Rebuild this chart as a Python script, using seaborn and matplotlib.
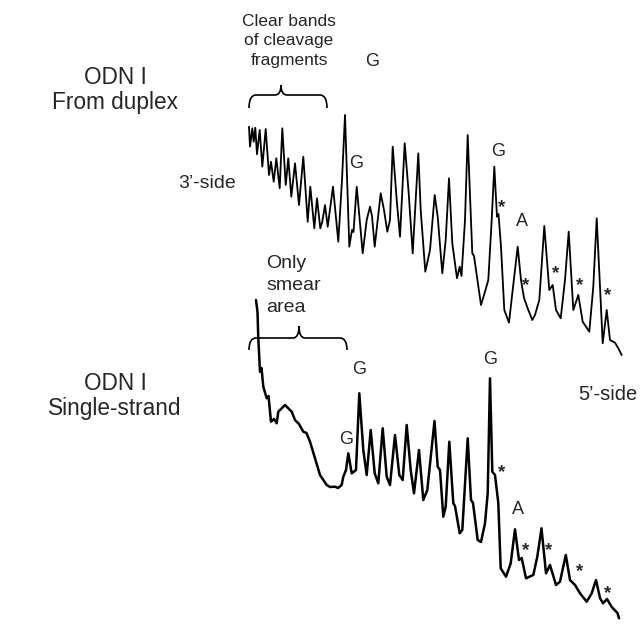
import matplotlib
matplotlib.use("Agg")
import matplotlib.pyplot as plt
import seaborn as sns
from matplotlib.path import Path
from matplotlib.patches import PathPatch

# ---- data (x = migration position, y = signal drawn downward) ----
duplex_x = [249, 250, 252.3, 253.7, 255.3, 257, 259.7, 262.3, 265.7, 269, 271, 273.7, 276.3, 279.7,
            282.3, 285.7, 288.3, 291.3, 295, 299, 303.3, 307.7, 310.3, 314.3, 317, 320.3, 322.3, 325,
            327.7, 333, 338.3, 342, 345, 349.3, 352, 353.5, 356.7, 362.7, 366.7, 370, 372, 374.7,
            380.7, 384, 387.3, 390, 392.7, 396.7, 400, 404.7, 408.7, 412.7, 418.3, 420.7, 425.3, 430,
            434.7, 437.7, 442.3, 445.7, 449, 452.3, 457, 459.7, 461.5, 465, 467.7, 470.3, 472.3, 474,
            481, 485, 488.3, 491.7, 494.3, 497, 498.5, 501, 504.3, 509, 512.3, 517.7, 521, 524, 528.3,
            532.3, 535, 539.3, 544.3, 549.3, 552.7, 556, 560.7, 565, 568.7, 573.3, 578.3, 582.7,
            589.3, 593.3, 596.7, 600, 602.7, 606.7, 610, 615, 618.3, 621.7]
duplex_y = [126.7, 146.7, 128.3, 141.7, 127.7, 154.3, 130, 166.7, 129, 175, 161.7, 181.7, 158.3, 188.3,
            128.3, 185, 158.3, 196.7, 163.3, 205, 156.7, 221.7, 186.7, 228.3, 198.3, 228.3, 221.7, 205,
            226.7, 186.7, 241.7, 180, 115, 246.7, 230, 232, 186.7, 253.3, 220, 206.7, 216, 246.7,
            193.3, 210, 231.7, 220, 146.7, 200, 236.7, 143.3, 193.3, 253.3, 153.3, 210, 271.7, 250,
            195, 216.7, 273.3, 240, 178.3, 243.3, 278.3, 266.7, 276, 220, 135, 203.3, 253.3, 256,
            305, 291.7, 280, 220, 166.7, 216.7, 214, 246.7, 310, 322.7, 293.3, 246.7, 280, 298, 310,
            320, 315, 300, 226, 290, 285, 310, 318.3, 280, 231.7, 310, 295, 321.7,
            331.7, 286.7, 218.3, 286.7, 343.3, 310, 340, 342.7, 348.3, 355]

single_x = [256, 257.5, 258.3, 260, 261.5, 263.3, 266.7, 268.5, 271, 274, 276.7, 278.3, 282, 285, 288,
            291.7, 295, 299, 303.3, 306.5, 310, 315, 320, 326.7, 330, 335, 338, 341.7, 343.3, 346,
            348.3, 351.7, 356, 359.3, 363.3, 366.7, 370.7, 374.7, 378.3, 382.7, 386.7, 390, 395,
            399.3, 402.7, 406.7, 410.7, 414, 419, 423.3, 427.3, 434.5, 437.7, 440, 443.3, 445.7,
            449.3, 453.3, 455, 459.7, 462.3, 467.7, 471, 473, 477.7, 481, 485, 487.7, 490, 492.3,
            495, 498.3, 500.7, 506, 510.7, 515, 519, 521.7, 526, 533.3, 537.3, 541.5, 546, 550, 556,
            560, 565.8, 570, 575, 580, 586.7, 591.7, 596, 600, 603, 607, 611.7, 617.5, 619]
single_y = [300, 312, 338.3, 371.7, 368, 386.7, 398.3, 396, 421.7, 419, 423.3, 411.7, 408, 405, 408,
            411.7, 420, 424, 431.7, 433, 441.7, 458.3, 475, 485, 487, 486.7, 488, 485, 476.7, 470,
            453.3, 473.3, 470, 393.3, 450, 475, 430, 473.3, 483.3, 428.3, 476.7, 485, 435,
            475, 480, 425, 470, 493.3, 450, 500, 490, 421, 466.7, 470, 516.7, 506.7,
            441.7, 503.3, 506, 533.3, 530, 438.3, 500, 503, 540, 542, 523.3, 493.3, 378.3, 471.7,
            475, 503, 568.3, 576.7, 563.3, 529.3, 560, 558, 578.3, 575, 556.7, 528.3, 573.3, 565, 585,
            581.7, 555, 580, 585, 593.3, 601.7, 593.3, 580, 598, 603.3, 599, 607, 613, 618.3]

panel_titles = [("ODN I", "From duplex"), ("ODN I", "Single-strand")]
top_note = ["Clear bands", "of cleavage", "fragments"]
bottom_note = ["Only", "smear", "area"]

# ---- figure ----
sns.set_style("white")
plt.rcParams["font.family"] = ["Liberation Sans", "DejaVu Sans"]

fig = plt.figure(figsize=(6.4, 6.25), dpi=100)
ax = fig.add_axes([0, 0, 1, 1])
sns.lineplot(x=duplex_x, y=duplex_y, sort=False, estimator=None, color="black", lw=1.3, ax=ax)
sns.lineplot(x=single_x, y=single_y, sort=False, estimator=None, color="black", lw=1.8, ax=ax)
ax.set_xlim(0, 640)
ax.set_ylim(625, 0)
ax.axis("off")


def brace(x0, x1, xm, yline, yend, ybump):
    verts = [(x0, yend), (x0, yline), (x0 + 7, yline),
             (xm - 6, yline), (xm, yline), (xm, ybump), (xm, yline), (xm + 6, yline),
             (x1 - 7, yline), (x1, yline), (x1, yend)]
    codes = [Path.MOVETO, Path.CURVE3, Path.CURVE3,
             Path.LINETO, Path.CURVE3, Path.CURVE3, Path.CURVE3, Path.CURVE3,
             Path.LINETO, Path.CURVE3, Path.CURVE3]
    ax.add_patch(PathPatch(Path(verts, codes), fill=False, lw=1.2, color="black"))


brace(249, 327, 281, 95, 108, 85)
brace(249, 347, 299, 338, 350, 326)

big = 16.3
# panel titles
ax.text(115, 78, panel_titles[0][0], ha="center", va="center", fontsize=big)
ax.text(115, 103, panel_titles[0][1], ha="center", va="center", fontsize=big)
ax.text(115, 383, panel_titles[1][0], ha="center", va="center", fontsize=big)
ax.text(115, 408, panel_titles[1][1], ha="center", va="center", fontsize=big)

for i, t in enumerate(top_note):
    ax.text(289, 22 + 19 * i, t, ha="center", va="center", fontsize=12.5)
for i, t in enumerate(bottom_note):
    ax.text(266, 263 + 22 * i, t, ha="left", va="center", fontsize=14)

ax.text(207, 183, "3\u2019-side", ha="center", va="center", fontsize=14)
ax.text(608, 394, "5\u2019-side", ha="center", va="center", fontsize=14.5)

labels = [(372, 62, "G"), (356, 163, "G"), (498, 151, "G"), (522, 222, "A"),
          (359, 369, "G"), (346, 439, "G"), (490, 359, "G"), (518, 510, "A")]
for x, y, s in labels:
    ax.text(x, y, s, ha="center", va="center", fontsize=13)

stars = [(502, 204), (526, 282), (556, 270), (580, 282), (608, 292),
         (502, 469), (526, 547), (549, 547), (580, 568), (608, 590)]
for x, y in stars:
    ax.text(x, y + 4, "*", ha="center", va="center", fontsize=13.5, fontweight="bold")

fig.savefig("out.png", dpi=100)
